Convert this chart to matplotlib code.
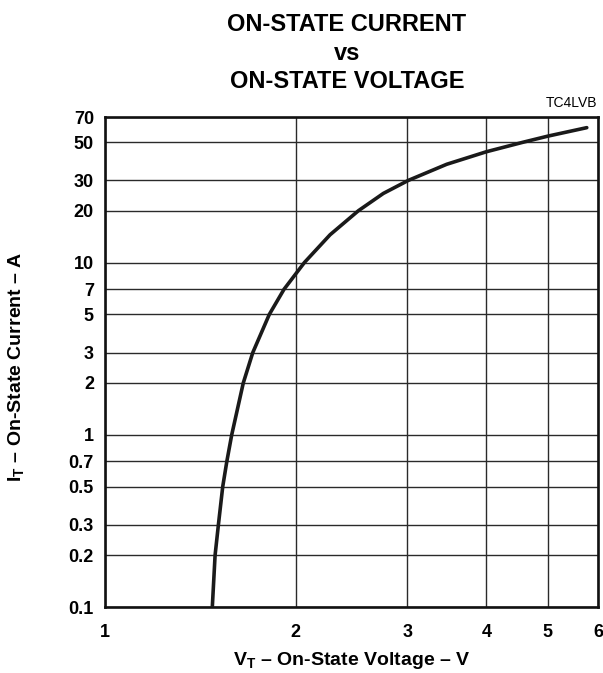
import matplotlib
matplotlib.use('Agg')
import matplotlib.pyplot as plt
from matplotlib.ticker import FixedLocator, NullLocator

plt.rcParams['font.family'] = ['Liberation Sans', 'DejaVu Sans']
plt.rcParams['mathtext.fontset'] = 'custom'
plt.rcParams['mathtext.bf'] = 'Liberation Sans:bold'
plt.rcParams['mathtext.rm'] = 'Liberation Sans:bold'

# curve
v_on = [1.477, 1.492, 1.510, 1.534, 1.557, 1.585, 1.653, 1.711, 1.817, 1.917,
        2.064, 2.266, 2.512, 2.750, 3.012, 3.462, 4.0, 4.574, 5.0, 5.76]
i_on = [0.1, 0.2, 0.3, 0.5, 0.7, 1.0, 2.0, 3.0, 5.0, 7.0,
        10.0, 14.5, 20.0, 25.2, 30.0, 37.2, 44.0, 50.0, 54.2, 60.7]

x_ticks = [1, 2, 3, 4, 5, 6]
y_ticks = [0.1, 0.2, 0.3, 0.5, 0.7, 1, 2, 3, 5, 7, 10, 20, 30, 50, 70]
y_labels = ['0.1', '0.2', '0.3', '0.5', '0.7', '1', '2', '3', '5', '7',
            '10', '20', '30', '50', '70']

fig = plt.figure(figsize=(6.03, 6.73), dpi=100)
ax = fig.add_axes([105 / 603, 66 / 673, 493 / 603, 490 / 673])

ax.plot(v_on, i_on, color='#1a1a1a', lw=2.6, solid_capstyle='round', zorder=3)

ax.set_xscale('log')
ax.set_yscale('log')
ax.set_xlim(1, 6)
ax.set_ylim(0.1, 70)

ax.xaxis.set_major_locator(FixedLocator(x_ticks))
ax.xaxis.set_minor_locator(NullLocator())
ax.set_xticklabels([str(t) for t in x_ticks])
ax.yaxis.set_major_locator(FixedLocator(y_ticks))
ax.yaxis.set_minor_locator(NullLocator())
ax.set_yticklabels(y_labels)

ax.grid(True, which='major', color='#2a2a2a', lw=1.0)
ax.tick_params(axis='both', length=0, labelsize=13)
ax.tick_params(axis='x', pad=12.5)
ax.tick_params(axis='y', pad=8)
for lab in ax.get_xticklabels() + ax.get_yticklabels():
    lab.set_fontweight('bold')

for sp in ax.spines.values():
    sp.set_linewidth(1.9)
    sp.set_color('#111111')

ax.set_xlabel(r'V$_\mathbf{T}$ – On-State Voltage – V', fontsize=14,
              fontweight='bold', labelpad=6)
ax.set_ylabel(r'I$_\mathbf{T}$ – On-State Current – A', fontsize=14,
              fontweight='bold')
ax.yaxis.set_label_coords(-0.158, 0.49)

fig.text(347 / 603, 1 - 31 / 673, 'ON-STATE CURRENT', ha='center', va='baseline',
         fontsize=17, fontweight='bold')
fig.text(347 / 603, 1 - 60 / 673, 'vs', ha='center', va='baseline',
         fontsize=17, fontweight='bold')
fig.text(347 / 603, 1 - 88 / 673, 'ON-STATE VOLTAGE', ha='center', va='baseline',
         fontsize=17, fontweight='bold')
fig.text(597 / 603, 1 - 103 / 673, 'TC4LVB', ha='right', va='center', fontsize=10)

fig.savefig('out.png', dpi=100)
